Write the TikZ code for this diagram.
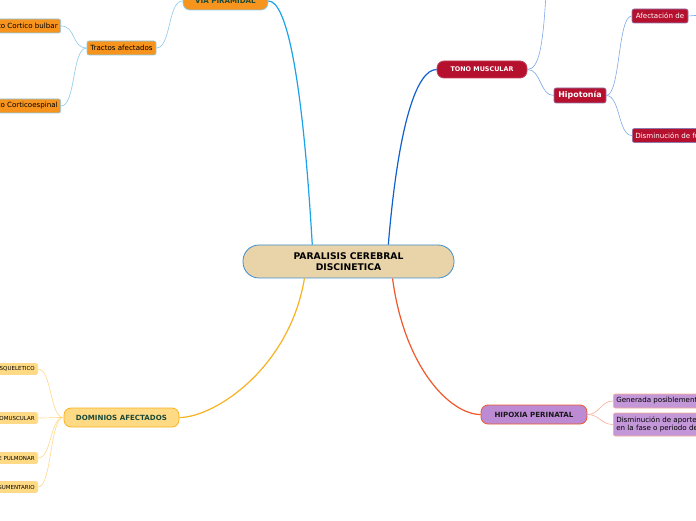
\documentclass[tikz,border=0pt]{standalone}
\usepackage{fontspec}
\setmainfont{DejaVu Sans}
\usepackage{tikz}
\usetikzlibrary{positioning,calc}
\definecolor{tan}{HTML}{E9D4A9}
\definecolor{rimblue}{HTML}{3E8FD0}
\definecolor{orng}{HTML}{F7941D}
\definecolor{skyl}{HTML}{8DCBEA}
\definecolor{cyanl}{HTML}{1AA3E8}
\definecolor{crimson}{HTML}{B5102E}
\definecolor{royal}{HTML}{1060D0}
\definecolor{periw}{HTML}{7FA8E8}
\definecolor{lilac}{HTML}{BC8BD4}
\definecolor{vermil}{HTML}{F0572A}
\definecolor{salmon}{HTML}{F8AE96}
\definecolor{butter}{HTML}{FFDA85}
\definecolor{amber}{HTML}{F9B21F}
\definecolor{paleamb}{HTML}{FFD98A}
\definecolor{pine}{HTML}{1A4A3A}
\tikzset{
  root/.style={rectangle, rounded corners=16pt, draw=rimblue, fill=tan,
               line width=0.8pt, align=center, minimum width=211pt,
               minimum height=33pt, inner sep=2pt,
               font=\fontsize{9.2}{10.5}\selectfont\bfseries},
  topic/.style 2 args={rectangle, rounded corners=7pt, draw=#1, fill=#2,
               line width=0.8pt, align=center, inner sep=2pt,
               font=\fontsize{7.1}{8.5}\selectfont\bfseries},
  leaf/.style 2 args={rectangle, rounded corners=2pt, draw=#1, fill=#2,
               line width=0.6pt, align=left, inner xsep=3pt, inner ysep=1pt,
               minimum height=14pt, font=\fontsize{7.1}{8.4}\selectfont},
  tiny/.style={rectangle, rounded corners=2pt, draw=paleamb, fill=butter,
               line width=0.6pt, inner xsep=3pt, inner ysep=1pt,
               minimum height=11pt, font=\fontsize{5.5}{6}\selectfont},
  br/.style={line width=1.2pt, draw=#1},
  tw/.style={line width=0.6pt, draw=#1},
}
\begin{document}
\begin{tikzpicture}[x=1pt, y=1pt]
  \useasboundingbox (0,0) rectangle (696,520);
  \clip (0,0) rectangle (696,520);
  \fill[white] (0,0) rectangle (696,520);

  % centre
  \node[root] (c) at (348.5,258.5) {PARALISIS CEREBRAL\\DISCINETICA};

  % via piramidal branch
  \node[topic={skyl}{orng}, text=pine, minimum width=85pt, minimum height=18pt]
       (via) at (225.5,519) {VIA PIRAMIDAL};
  \node[leaf={skyl}{orng}, minimum width=69pt, align=center]
       (tract) at (121.5,472) {Tractos afectados};
  \node[leaf={skyl}{orng}, anchor=east] (bulbar) at (61,494) {Tracto Cortico bulbar};
  \node[leaf={skyl}{orng}, anchor=east] (espinal) at (61,414) {Tracto Corticoespinal};

  % tono muscular branch
  \node[topic={crimson!80!white}{crimson}, text=white, font=\fontsize{6.4}{7.5}\selectfont\bfseries,
        minimum width=90pt, minimum height=17pt] (tono) at (482,450.5) {TONO MUSCULAR};
  \node[leaf={periw!70!crimson}{crimson}, text=white, rounded corners=2pt,
        font=\fontsize{7.9}{9}\selectfont\bfseries, minimum width=52pt, minimum height=15pt,
        align=center] (hipot) at (580,424.5) {Hipotonía};
  \node[leaf={periw!70!crimson}{crimson}, text=white, minimum width=56pt, align=center]
       (afect) at (660,504) {Afectación de};
  \node[leaf={periw!70!crimson}{crimson}, text=white, anchor=west]
       (dismf) at (632,384.5) {Disminución de fuerza};
  \coordinate (tonoup) at (546,526);
  \coordinate (afectout) at (702,505);

  % hipoxia branch
  \node[topic={vermil}{lilac}, text=black!90, minimum width=106pt, minimum height=19pt]
       (hipox) at (534,105.5) {HIPOXIA PERINATAL};
  \node[leaf={salmon}{lilac!90!white}, anchor=west] (gen) at (613,119)
       {Generada posiblemente por asfixia};
  \node[leaf={salmon}{lilac!90!white}, anchor=west, minimum height=23pt] (aporte) at (613,95.5)
       {Disminución de aporte de oxígeno\\en la fase o periodo del parto};

  % dominios branch
  \node[topic={amber}{butter}, text=pine, minimum width=115pt, minimum height=19pt]
       (dom) at (121.5,102.5) {DOMINIOS AFECTADOS};
  \node[tiny, anchor=east] (d1) at (38,151) {MUSCULOESQUELETICO};
  \node[tiny, anchor=east] (d2) at (38,102) {NEUROMUSCULAR};
  \node[tiny, anchor=east] (d3) at (38,62) {CARDIACO DE PULMONAR};
  \node[tiny, anchor=east] (d4) at (38,33) {TEGUMENTARIO};

  % main branches
  \draw[br=cyanl] (c.155) .. controls +(-10,170) and +(18,0) .. (via.east);
  \draw[br=royal] (c.23) .. controls +(10,120) and +(-20,0) .. (tono.west);
  \draw[br=vermil] (c.-21) .. controls +(12,-90) and +(-30,0) .. (hipox.west);
  \draw[br=amber] (c.201) .. controls +(-15,-90) and +(35,0) .. (dom.east);

  % twigs
  \draw[tw=skyl] (via.west) .. controls +(-15,0) and +(15,0) .. (tract.east);
  \draw[tw=skyl] (tract.west) .. controls +(-15,0) and +(15,0) .. (bulbar.east);
  \draw[tw=skyl] (tract.west) .. controls +(-15,0) and +(15,0) .. (espinal.east);
  \draw[tw=periw] (tono.east) .. controls +(12,0) and +(-3,-50) .. (tonoup);
  \draw[tw=periw] (tono.east) .. controls +(14,0) and +(-14,0) .. (hipot.west);
  \draw[tw=periw] (hipot.east) .. controls +(14,0) and +(-14,0) .. (afect.west);
  \draw[tw=periw] (hipot.east) .. controls +(14,0) and +(-14,0) .. (dismf.west);
  \draw[tw=periw] (afect.east) -- (afectout);
  \draw[tw=salmon] (hipox.east) .. controls +(12,0) and +(-12,0) .. (gen.west);
  \draw[tw=salmon] (hipox.east) .. controls +(12,0) and +(-12,0) .. (aporte.west);
  \foreach \d in {d1,d2,d3,d4}
    \draw[tw=paleamb] (dom.west) .. controls +(-14,0) and +(14,0) .. (\d.east);
\end{tikzpicture}
\end{document}
